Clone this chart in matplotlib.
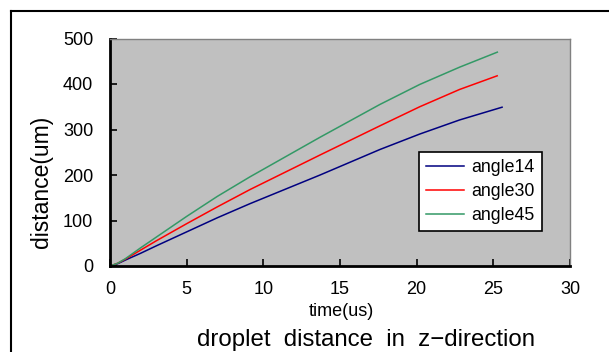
import matplotlib
matplotlib.use("Agg")
import matplotlib.pyplot as plt
from matplotlib.lines import Line2D

t_14 = [0, 0.5, 1, 2, 3, 5, 7, 9.13, 13.7, 17.6, 20.2, 22.8, 25.57]
d_14 = [0, 5, 13, 28, 44, 75, 106, 137, 200, 256, 290, 321, 349]
t_30 = [0, 0.5, 1, 2, 3, 5, 7, 9.13, 13.7, 17.6, 20.2, 22.8, 25.25]
d_30 = [0, 6, 15, 35, 55, 93, 130, 168, 244, 308, 350, 388, 418]
t_45 = [0, 0.5, 1, 2, 3, 5, 7, 9.13, 13.7, 17.6, 20.2, 22.8, 25.26]
d_45 = [0, 6, 16, 40, 63, 109, 153, 196, 283, 355, 399, 437, 470]
labels = ["angle14", "angle30", "angle45"]
xticks = [0, 5, 10, 15, 20, 25, 30]
yticks = [0, 100, 200, 300, 400, 500]

plt.rcParams['font.family'] = ['Liberation Sans', 'DejaVu Sans']

fig = plt.figure(figsize=(6.09, 3.52), dpi=100)
ax = fig.add_axes([110/609, 1-266/352, 460/609, 227.5/352])
ax.set_facecolor('#c0c0c0')

ax.plot(t_14, d_14, color='#000080', lw=1.1, label=labels[0])
ax.plot(t_30, d_30, color='#ff0000', lw=1.1, label=labels[1])
ax.plot(t_45, d_45, color='#339966', lw=1.1, label=labels[2])

ax.set_xlim(0, 30)
ax.set_ylim(0, 500)
ax.set_xticks(xticks)
ax.set_yticks(yticks)
ax.tick_params(direction='in', length=5, width=1.2, labelsize=13, colors='black')
ax.tick_params(axis='x', pad=11)
ax.tick_params(axis='y', pad=12)
for s in ['left', 'bottom']:
    ax.spines[s].set_linewidth(2)
    ax.spines[s].set_color('black')
for s in ['top', 'right']:
    ax.spines[s].set_linewidth(1)
    ax.spines[s].set_color('#808080')

fig.text(41/609, 1-182/352, 'distance(um)', fontsize=16.5, rotation=90,
         ha='center', va='center')
fig.text(341/609, 1-312/352, 'time(us)', fontsize=13, ha='center', va='center')
fig.text(366/609, 1-340/352, 'droplet  distance  in  z\u2212direction', fontsize=17.3,
         ha='center', va='center')

leg = ax.legend(loc='upper left', bbox_to_anchor=(0.672, 0.501), fontsize=12.8,
                frameon=True, fancybox=False, edgecolor='black', framealpha=1,
                handlelength=2.1, handletextpad=0.45, borderpad=0.4, labelspacing=0.4,
                borderaxespad=0)
leg.get_frame().set_linewidth(1.2)

# outer frame
fig.add_artist(Line2D([11/609, 1.0], [1-11/352, 1-11/352], color='black', lw=1.5,
                      transform=fig.transFigure))
fig.add_artist(Line2D([11/609, 11/609], [1-11/352, 0], color='black', lw=1.5,
                      transform=fig.transFigure))

fig.savefig('out.png', dpi=100)
